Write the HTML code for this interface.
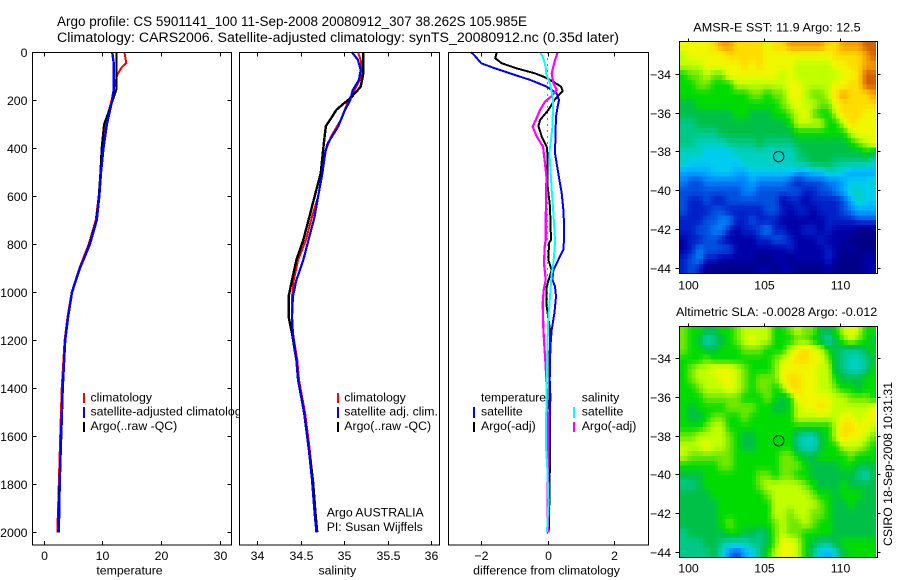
<!DOCTYPE html>
<html>
<head>
<meta charset="utf-8">
<title>Argo profile</title>
<style>
html,body{margin:0;padding:0;background:#fff;}
svg{display:block;font-family:"Liberation Sans",sans-serif;}
text{fill:#000;font-size:12.3px;}
</style>
</head>
<body>
<svg id="chart" xmlns="http://www.w3.org/2000/svg" width="900" height="580" viewBox="0 0 900 580">
  <rect x="0" y="0" width="900" height="580" fill="#fff"/>
  <text x="57" y="26" style="font-size:13.5px" textLength="470" lengthAdjust="spacingAndGlyphs">Argo profile: CS 5901141_100 11-Sep-2008 20080912_307 38.262S 105.985E</text>
  <text x="57" y="42" style="font-size:13.5px" textLength="562" lengthAdjust="spacingAndGlyphs">Climatology: CARS2006. Satellite-adjusted climatology: synTS_20080912.nc (0.35d later)</text>
  <g id="layer"></g>
  <text x="693.3" y="31.5" textLength="167.4" lengthAdjust="spacingAndGlyphs">AMSR-E SST: 11.9 Argo: 12.5</text>
  <text x="676" y="316" textLength="201.3" lengthAdjust="spacingAndGlyphs">Altimetric SLA: -0.0028 Argo: -0.012</text>
  <text transform="translate(892,546) rotate(-90)" textLength="164" lengthAdjust="spacingAndGlyphs">CSIRO 18-Sep-2008 10:31:31</text>
</svg>
<script>
/* ---------- tick labels ---------- */
var depthTicks = [0,200,400,600,800,1000,1200,1400,1600,1800,2000];
var tempTicks = [0,10,20,30];
var salTicks = [34,34.5,35,35.5,36];
var diffTicks = [-2,0,2];
var lonTicks = [100,105,110];
var latTicks = [-34,-36,-38,-40,-42,-44];

/* ---------- temperature panel ---------- */
var tempClimDepths = [0,45,60,88,100,150,200,300,400,500,600,700,800,900,1000,1100,1200,1400,1600,1800,2000];
var tempClimValues = [13.8,14.1,13.4,12.7,12.5,12.0,11.6,10.5,10.0,9.7,9.4,8.9,7.7,6.1,4.8,4.1,3.6,3.1,2.85,2.6,2.35];
var tempSatDepths = [0,50,150,200,300,400,500,600,700,800,900,1000,1100,1200,1400,1600,1800,2000];
var tempSatValues = [11.7,12.0,12.0,11.7,10.8,10.2,9.8,9.5,9.06,7.9,6.2,4.85,4.2,3.7,3.27,3.0,2.76,2.6];
var tempArgoDepths = [0,150,200,300,400,500,600,700,800,900,1000,1100,1200,1400,1600,1800,2000];
var tempArgoValues = [12.47,12.47,11.8,10.3,9.9,9.7,9.4,9.0,7.8,6.2,4.8,4.2,3.7,3.3,3.05,2.7,2.5];

/* ---------- salinity panel ---------- */
var salClimDepths = [0,32,88,115,157,200,282,351,407,504,601,685,782,865,949,1018,1102,1171,1282,1365,1503,1643,1782,1921,2000];
var salClimValues = [35.16,35.19,35.21,35.18,35.12,35.05,34.96,34.85,34.79,34.75,34.7,34.63,34.56,34.47,34.42,34.4,34.4,34.41,34.46,34.48,34.55,34.6,34.64,34.67,34.69];
var salSatDepths = [0,32,74,115,157,200,240,310,380,420,504,601,685,782,865,908,949,1018,1102,1171,1282,1365,1503,1643,1782,1921,2000];
var salSatValues = [35.09,35.16,35.19,35.17,35.1,35.07,35.01,34.93,34.81,34.78,34.75,34.7,34.66,34.59,34.53,34.49,34.45,34.41,34.4,34.41,34.45,34.47,34.54,34.59,34.63,34.66,34.68];
var salArgoDepths = [0,88,143,164,192,212,240,275,307,365,504,601,685,782,865,949,1018,1102,1171,1282,1365,1503,1643,1782,1921,2000];
var salArgoValues = [35.22,35.22,35.19,35.14,35.07,35.0,34.91,34.85,34.79,34.77,34.73,34.66,34.6,34.53,34.45,34.4,34.36,34.36,34.4,34.45,34.47,34.54,34.59,34.64,34.67,34.69];

/* ---------- difference panel ---------- */
var dTempSatDepths = [0,15,46,67,88,115,143,171,199,226,268,310,420,504,587,670,782,823,865,907,948,976,1018,1087,1157,1226,1365,1435,1574,1780,2000];
var dTempSatValues = [-2.3,-2.19,-2.0,-1.58,-1.13,-0.53,-0.03,0.27,0.34,0.3,0.25,0.24,0.22,0.32,0.42,0.48,0.49,0.47,0.32,0.17,0.14,0.22,0.25,0.2,0.12,0.08,0.06,0.08,0.05,0.04,0.02];
var dTempArgoDepths = [0,25,46,67,88,104,122,143,161,178,199,240,282,307,351,393,435,560,643,782,795,865,907,976,1060,1157,1365,1574,1800,2000];
var dTempArgoValues = [-1.53,-1.58,-1.38,-0.93,-0.38,-0.08,0.16,0.4,0.45,0.34,0.2,0.02,-0.23,-0.28,-0.18,-0.03,0,0,0.07,0.1,0.04,0.02,0.12,-0.03,-0.03,0.07,0.05,0.07,0.06,0.03];
var dSalSatDepths = [0,18,60,88,129,171,199,240,310,365,420,504,574,670,782,795,879,921,962,1018,1101,1226,1365,1574,1643,1740,1880,2000];
var dSalSatValues = [-0.23,-0.15,-0.06,-0.05,0.07,0.13,0.16,0.16,0.14,0.1,0.05,0.09,0.12,0.17,0.22,0.22,0.17,0.12,0.1,0.07,0.02,-0.01,-0.03,-0.05,-0.05,-0.01,0.02,-0.02];
var dSalArgoDepths = [0,32,88,129,157,185,206,240,282,310,351,393,462,532,560,782,810,879,948,990,1046,1157,1226,1310,1500,1800,2000];
var dSalArgoValues = [0.3,0.22,0.12,0.17,0.27,0.1,-0.08,-0.23,-0.36,-0.45,-0.33,-0.14,-0.08,-0.03,-0.05,-0.06,-0.09,-0.11,-0.06,-0.12,-0.15,-0.13,-0.1,-0.06,0,0,0];

/* ---------- map levels ---------- */
var sstRows = [
[13,13,13,13,14,15,15,14,14,14,14,13,14,14,15,15,15,15,15,14,14,15,15,15,16,16],
[12,13,13,13,13,13,14,14,14,14,14,13,13,13,13,13,13,13,13,13,14,14,14,14,15,16],
[12,12,12,13,13,13,13,13,14,13,14,13,13,13,13,12,12,12,12,12,13,13,14,14,15,15],
[10,11,11,12,11,11,13,13,13,13,13,13,13,12,13,12,12,12,12,12,12,13,13,14,16,16],
[10,10,11,11,10,10,10,12,12,12,12,12,12,12,13,13,12,12,12,12,13,13,14,14,16,16],
[10,10,10,10,10,10,10,10,10,11,11,10,11,11,13,13,12,11,11,12,14,15,14,14,14,15],
[9,9,10,10,10,10,10,10,10,10,10,10,10,11,12,13,12,12,11,11,13,14,14,14,14,14],
[9,9,9,9,9,9,9,10,10,9,9,9,10,10,11,12,13,11,10,10,12,14,14,14,13,13],
[8,8,9,9,9,9,9,9,9,9,9,9,9,9,10,12,12,12,12,10,10,12,14,13,13,13],
[8,8,8,8,8,9,9,9,9,9,9,9,9,9,9,10,10,10,10,10,10,10,12,13,13,13],
[8,8,7,7,7,7,8,8,8,8,9,8,8,8,8,9,9,9,9,9,9,9,10,11,12,13],
[7,7,7,6,6,6,6,7,7,7,7,7,7,7,7,8,9,9,9,9,9,9,9,9,10,9],
[7,6,6,6,6,6,6,6,7,7,7,7,7,7,7,8,8,9,9,9,8,8,8,8,8,7],
[5,5,5,5,6,6,6,5,5,6,6,6,6,6,6,5,5,6,6,7,7,6,5,5,5,5],
[4,3,3,4,4,4,4,4,4,5,4,4,4,4,3,2,3,3,3,4,4,5,6,6,6,7],
[3,3,3,3,3,3,3,3,4,4,3,3,3,3,3,3,2,2,3,3,4,5,7,7,6,6],
[3,2,2,3,2,2,3,3,3,3,3,3,3,1,2,2,1,2,2,2,2,3,5,7,6,6],
[3,2,2,2,3,3,2,2,2,2,2,3,3,2,1,2,2,1,2,2,2,3,4,5,5,5],
[2,2,2,3,3,4,4,2,2,3,2,2,2,1,1,1,1,1,1,2,2,2,2,3,3,3],
[2,2,3,3,4,4,2,1,2,2,3,4,2,2,1,1,2,2,1,2,1,1,1,0,0,0],
[1,2,2,3,3,2,1,1,1,1,2,2,3,3,2,1,1,1,2,1,1,1,0,0,0,0],
[1,2,4,3,3,3,3,1,1,1,1,1,1,1,2,1,1,1,1,2,1,0,1,0,0,0],
[2,3,4,2,2,1,1,1,1,1,0,0,1,1,0,1,1,1,1,2,1,0,0,0,1,1],
[2,3,2,0,0,0,0,0,0,0,1,1,0,1,1,0,0,0,0,1,0,0,0,0,1,1]
];
var slaRows = [
[11,10,10,9,9,10,10,11,12,12,12,12,10,10,11,12,11,11,9,9,10,12,13,12,10,10],
[11,10,9,7,8,9,10,11,12,13,12,12,10,10,10,11,11,10,9,7,9,11,12,11,10,9],
[11,10,10,9,9,10,10,10,11,11,11,10,10,10,12,13,14,13,12,10,9,8,8,8,9,10],
[10,10,10,11,10,10,10,10,10,10,10,10,11,12,13,14,14,13,13,11,9,8,7,7,8,9],
[10,11,12,12,13,13,13,12,11,10,10,10,11,13,13,13,13,13,12,12,9,8,7,7,8,10],
[10,11,12,12,12,13,13,12,11,10,11,11,11,13,14,14,13,13,12,12,10,9,9,9,10,10],
[10,10,11,12,12,12,13,12,11,10,11,11,10,11,14,14,13,13,12,12,11,10,10,9,10,10],
[10,10,10,11,11,11,11,11,10,10,10,11,10,9,10,13,13,13,13,13,12,12,11,11,11,10],
[10,9,10,10,10,10,11,11,11,11,10,10,9,9,10,12,13,13,14,13,12,12,12,12,12,13],
[10,9,9,10,11,11,10,10,11,10,10,10,10,10,10,12,12,12,12,12,12,13,13,12,13,13],
[10,10,10,11,12,12,10,10,10,10,10,10,10,10,10,10,10,10,10,10,12,14,14,13,13,12],
[11,11,12,12,12,12,11,10,9,9,10,10,10,10,10,8,7,7,9,10,12,14,13,13,12,11],
[12,12,12,13,12,12,11,10,9,9,10,10,10,10,10,8,7,7,9,10,10,12,12,12,11,10],
[12,11,11,11,11,11,11,10,10,10,10,10,10,11,11,10,9,9,10,10,10,10,11,10,10,10],
[10,10,10,10,10,11,11,10,10,10,10,10,10,11,11,11,10,9,9,9,9,10,10,9,9,9],
[9,9,9,10,10,10,10,10,10,10,11,11,10,11,11,10,10,9,9,9,9,9,9,8,7,9],
[8,8,9,10,10,10,10,10,10,10,11,12,12,12,12,12,11,10,9,9,9,10,9,9,9,9],
[9,9,9,9,10,10,10,10,10,10,10,11,12,12,12,12,12,11,10,10,9,10,10,10,9,9],
[9,9,9,9,9,10,10,10,10,10,10,10,12,12,12,12,12,12,11,10,9,9,10,9,9,9],
[9,9,9,9,9,10,10,10,10,10,10,10,12,12,11,12,12,11,11,10,9,9,9,9,9,9],
[9,9,9,9,9,10,11,10,10,10,10,10,11,12,11,11,12,11,10,10,9,9,9,9,9,9],
[8,9,9,9,9,9,10,10,9,9,8,9,11,12,11,11,10,10,10,10,9,9,9,9,9,9],
[8,8,8,9,9,8,7,7,7,8,8,9,11,13,13,12,10,9,8,8,9,10,10,10,10,10],
[8,8,8,8,9,7,4,3,5,6,8,10,12,13,13,12,10,8,6,5,7,9,10,10,10,10]
];
var levelColors = ['#000088','#0000a8','#0020c8','#0050e0','#0080f8','#00a8ff','#00ccf0','#00d0c0','#00c888','#00c048','#00dc00','#70e800','#c0ff00','#f0f800','#ffdc00','#f5a000','#d06000'];
var argoLon = [105.985];
var argoLat = [-38.262];

/* ---------- axis functions ---------- */
var NS = 'http://www.w3.org/2000/svg';
var layer = document.getElementById('layer');
function yDepth(d){ return 52.3 + 0.24 * d; }
function xTemp(v){ return 43.5 + 5.87 * v; }
function xSal(v){ return 257.3 + 86.85 * (v - 34); }
function xDiff(v){ return 547.7 + 33.25 * v; }
function xLon(v){ return 687.7 + 15.2 * (v - 100); }
function yLat1(v){ return 74 + 19.37 * (-34 - v); }
function yLat2(v){ return 358.3 + 19.34 * (-34 - v); }

function mk(tag, attrs, parent){
  var el = document.createElementNS(NS, tag);
  for (var k in attrs) el.setAttribute(k, attrs[k]);
  (parent || layer).appendChild(el);
  return el;
}
function label(txt, x, y, anchor, name){
  var el = mk('text', {x:x, y:y, 'text-anchor':anchor||'start'});
  el.textContent = txt;
  
  
  return el;
}
function tickLine(x1, y1, x2, y2, name){
  var el = mk('line', {x1:x1, y1:y1, x2:x2, y2:y2, stroke:'#000', 'stroke-width':1, 'shape-rendering':'crispEdges'});
  
  
}
function fmt(v){ return v < 0 ? '\u2212' + Math.abs(v) : String(v); }

function profilePanel(name, left, right, top, bottom, xFn, xTicks, xTitle, xTitleX){
  var bg = mk('rect', {x:left, y:top, width:right-left, height:bottom-top, fill:'#fff'});
  
  
  xTicks.forEach(function(t){
    var x = Math.round(xFn(t)) + 0.5;
    tickLine(x, top, x, top + 4, name + '-top-tick');
    tickLine(x, bottom, x, bottom - 4, name + '-bottom-tick');
    label(fmt(t), x, 560, 'middle', name + '-x-tick-label');
  });
  label(xTitle, xTitleX, 574.5, 'middle', name + '-x-axis-title');
}
function frame(name, left, right, top, bottom){
  var fr = mk('rect', {x:left, y:top, width:right-left, height:bottom-top, fill:'none', stroke:'#000', 'stroke-width':1, 'shape-rendering':'crispEdges'});
  
  
}
function series(name, depths, values, xFn, color, width){
  var pts = depths.map(function(d, i){ return xFn(values[i]).toFixed(1) + ',' + yDepth(d).toFixed(1); }).join(' ');
  var el = mk('polyline', {points:pts, fill:'none', stroke:color, 'stroke-width':width, 'shape-rendering':'crispEdges', 'stroke-linejoin':'round'});
  
  
}
function legendEntry(name, mx, y0, y1, color){
  var el = mk('line', {x1:mx, y1:y0, x2:mx, y2:y1, stroke:color, 'stroke-width':2, 'shape-rendering':'crispEdges'});
  
  
}

/* ---------- panel 1 ---------- */
profilePanel('temperature-panel', 32.5, 231.5, 52.5, 545, xTemp, tempTicks, 'temperature', 129.5);
depthTicks.forEach(function(d){
  var y = Math.round(yDepth(d)) + 0.5;
  tickLine(32.5, y, 36.5, y, 'depth-left-tick');
  tickLine(231.5, y, 227.5, y, 'depth-right-tick');
  label(String(d), 27.5, y + 4.5, 'end', 'depth-tick-label');
});
series('temperature-climatology-line', tempClimDepths, tempClimValues, xTemp, '#ff0000', 2);
series('temperature-argo-line', tempArgoDepths, tempArgoValues, xTemp, '#000000', 2);
series('temperature-satellite-line', tempSatDepths, tempSatValues, xTemp, '#0000ff', 2.4);
legendEntry('legend-swatch-climatology', 84, 393, 403, '#ff0000');
legendEntry('legend-swatch-satellite', 84, 407, 418, '#0000ff');
legendEntry('legend-swatch-argo', 84, 422, 432, '#000000');
label('climatology', 90.5, 401.7, 'start', 'legend-label-climatology');
label('satellite-adjusted climatology', 90.5, 415.7, 'start', 'legend-label-satellite');
label('Argo(..raw -QC)', 90.5, 430, 'start', 'legend-label-argo');
frame('temperature-panel', 32.5, 231.5, 52.5, 545);

/* ---------- panel 2 ---------- */
profilePanel('salinity-panel', 239.5, 439.5, 52.5, 545, xSal, salTicks, 'salinity', 337.3);
series('salinity-climatology-line', salClimDepths, salClimValues, xSal, '#ff0000', 2);
series('salinity-argo-line', salArgoDepths, salArgoValues, xSal, '#000000', 2.4);
series('salinity-satellite-line', salSatDepths, salSatValues, xSal, '#0000ff', 2.2);
legendEntry('legend-swatch-climatology', 338, 393, 403, '#ff0000');
legendEntry('legend-swatch-satellite', 338, 407, 418, '#0000ff');
legendEntry('legend-swatch-argo', 338, 422, 432, '#000000');
label('climatology', 344.3, 401.7, 'start', 'legend-label-climatology');
label('satellite adj. clim.', 344.3, 415.7, 'start', 'legend-label-satellite');
label('Argo(..raw -QC)', 344.3, 430, 'start', 'legend-label-argo');
label('Argo AUSTRALIA', 326.7, 516.7, 'start', 'float-owner-label');
label('PI: Susan Wijffels', 326.7, 531, 'start', 'principal-investigator-label');
frame('salinity-panel', 239.5, 439.5, 52.5, 545);

/* ---------- panel 3 ---------- */
profilePanel('difference-panel', 448.5, 648.5, 52.5, 545, xDiff, diffTicks, 'difference from climatology', 546.5);
var zeroLine = mk('line', {x1:xDiff(0), y1:yDepth(0), x2:xDiff(0), y2:yDepth(2020), stroke:'#000', 'stroke-width':1, 'stroke-dasharray':'1 5', 'shape-rendering':'crispEdges'});


series('difference-temperature-argo-line', dTempArgoDepths, dTempArgoValues, xDiff, '#000000', 2);
series('difference-temperature-satellite-line', dTempSatDepths, dTempSatValues, xDiff, '#0000ff', 2);
series('difference-salinity-argo-line', dSalArgoDepths, dSalArgoValues, xDiff, '#ff00ff', 2.2);
series('difference-salinity-satellite-line', dSalSatDepths, dSalSatValues, xDiff, '#00ffff', 2);
legendEntry('legend-swatch-temperature-satellite', 474, 407, 418, '#0000ff');
legendEntry('legend-swatch-temperature-argo', 474, 422, 432, '#000000');
legendEntry('legend-swatch-salinity-satellite', 574, 407, 418, '#00ffff');
legendEntry('legend-swatch-salinity-argo', 574, 422, 432, '#ff00ff');
var tempHeading = label('temperature', 481, 401.7, 'start', 'legend-heading-temperature');
tempHeading.setAttribute('textLength', '65');
tempHeading.setAttribute('lengthAdjust', 'spacingAndGlyphs');
label('satellite', 481, 415.7, 'start', 'legend-label-temperature-satellite');
label('Argo(-adj)', 481, 430, 'start', 'legend-label-temperature-argo');
label('salinity', 581.7, 401.7, 'start', 'legend-heading-salinity');
label('satellite', 581.7, 415.7, 'start', 'legend-label-salinity-satellite');
label('Argo(-adj)', 581.7, 430, 'start', 'legend-label-salinity-argo');
frame('difference-panel', 448.5, 648.5, 52.5, 545);

/* ---------- maps ---------- */
function hexToRgb(h){ return [parseInt(h.substr(1,2),16), parseInt(h.substr(3,2),16), parseInt(h.substr(5,2),16)]; }
function levelColor(l){
  var m = levelColors.length - 1;
  l = Math.max(0, Math.min(m, l));
  var a = Math.floor(l), b = Math.min(m, a + 1), t = l - a;
  var ca = hexToRgb(levelColors[a]), cb = hexToRgb(levelColors[b]);
  return 'rgb(' + Math.round(ca[0]+(cb[0]-ca[0])*t) + ',' + Math.round(ca[1]+(cb[1]-ca[1])*t) + ',' + Math.round(ca[2]+(cb[2]-ca[2])*t) + ')';
}
/* Display shading: each read value is drawn as a 2x2 block shaded towards its neighbours. */
function shade(rows, u, v){
  var nr = rows.length, nc = rows[0].length;
  var fx = u - 0.5, fy = v - 0.5;
  var i0 = Math.floor(fx), j0 = Math.floor(fy), tx = fx - i0, ty = fy - j0;
  function at(j, i){ return rows[Math.max(0, Math.min(nr-1, j))][Math.max(0, Math.min(nc-1, i))]; }
  return (at(j0,i0)*(1-tx) + at(j0,i0+1)*tx)*(1-ty) + (at(j0+1,i0)*(1-tx) + at(j0+1,i0+1)*tx)*ty;
}
function mapPanel(name, rows, yFn, top, bottom, labelBaseline, imgTop, imgBottom){
  var defs = mk('clipPath', {id: name + '-clip'});
  mk('rect', {x:680, y:imgTop, width:196, height:imgBottom-imgTop}, defs);
  var g = mk('g', {'clip-path':'url(#' + name + '-clip)'});
  
  
  for (var sj = 0; sj < rows.length * 2; sj++) {
    for (var si = 0; si < rows[0].length * 2; si++) {
      var lon0 = 99.5 + 0.25 * si, lon1 = lon0 + 0.25;
      var lat0 = -32.3 - 0.25 * sj, lat1 = lat0 - 0.25;
      var lvl = shade(rows, (si + 0.5) / 2, (sj + 0.5) / 2);
      var c = mk('rect', {x:xLon(lon0).toFixed(2), y:yFn(lat0).toFixed(2), width:(xLon(lon1)-xLon(lon0)+0.4).toFixed(2), height:(yFn(lat1)-yFn(lat0)+0.4).toFixed(2), fill:levelColor(lvl), 'shape-rendering':'crispEdges'}, g);
      
      
    }
  }
  frame(name, 679.5, 877.5, top, bottom);
  lonTicks.forEach(function(t){
    var x = Math.round(xLon(t)) + 0.5;
    tickLine(x, top - 3, x, top, name + '-top-tick');
    label(String(t), x, labelBaseline, 'middle', name + '-lon-tick-label');
  });
  latTicks.forEach(function(t){
    var y = Math.round(yFn(t)) + 0.5;
    tickLine(675.5, y, 679.5, y, name + '-left-tick');
    tickLine(877.5, y, 880.5, y, name + '-right-tick');
    label(fmt(t), 671, y + 4.5, 'end', name + '-lat-tick-label');
  });
  var m = mk('circle', {cx:xLon(argoLon[0]), cy:yFn(argoLat[0]), r:5.2, fill:'none', stroke:'#000', 'stroke-width':1});
  
  
}
mapPanel('sst-map', sstRows, yLat1, 41.5, 273.5, 289.5, 42, 273);
mapPanel('sla-map', slaRows, yLat2, 326.5, 557.5, 572.5, 327, 557);
</script>
</body>
</html>
